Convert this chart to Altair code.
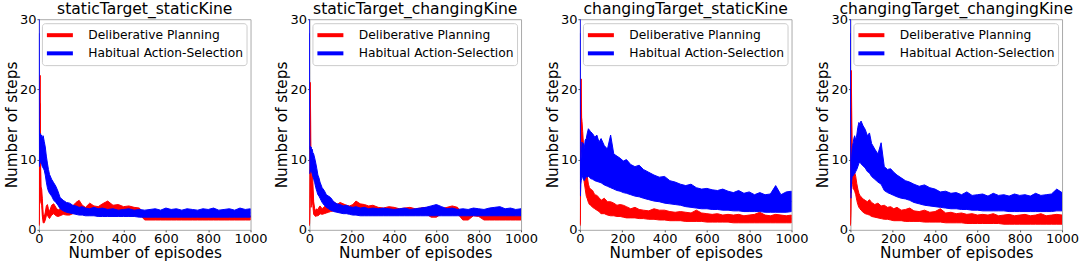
import altair as alt
import pandas as pd

# ---------------- data ----------------
EP = [0, 1, 2, 3, 4, 6, 8, 10, 13, 16,
      20, 25, 30, 35, 40, 45, 50, 60, 70, 80,
      90, 100, 115, 130, 145, 160, 175, 190, 205, 220,
      240, 260, 280, 300, 325, 350, 375, 400, 425, 450,
      475, 500, 525, 550, 575, 600, 625, 650, 675, 700,
      725, 750, 775, 800, 825, 850, 875, 900, 925, 950,
      975, 1000]

SERIES = ["Deliberative Planning", "Habitual Action-Selection"]
COLORS = ["#ff0000", "#0000ff"]
TITLES = ["staticTarget_staticKine", "staticTarget_changingKine",
          "changingTarget_staticKine", "changingTarget_changingKine"]
X_TICKS = [0, 200, 400, 600, 800, 1000]
Y_TICKS = [0, 10, 20, 30]

# panel 1 : staticTarget_staticKine
P1_RED_HI = [1.0, 3.0, 8.0, 14.0, 19.0, 22.0, 9.0, 6.1, 5.8, 4.5,
             2.2, 1.8, 2.5, 3.4, 3.6, 3.0, 2.6, 3.5, 3.7, 3.2,
             2.8, 3.0, 3.4, 3.0, 2.9, 3.4, 3.9, 4.2, 3.5, 3.2,
             3.8, 3.4, 3.3, 3.7, 4.1, 3.5, 3.6, 3.3, 3.4, 3.2,
             3.1, 2.0, 1.9, 2.0, 1.9, 2.0, 1.9, 2.0, 1.9, 2.0,
             1.9, 2.0, 1.9, 2.0, 1.9, 2.0, 1.9, 2.0, 1.9, 2.0,
             1.9, 2.0]
P1_RED_LO = [0.6, 1.0, 3.0, 6.0, 10.0, 14.0, 4.0, 3.8, 3.5, 2.0,
             1.0, 1.0, 1.4, 2.0, 2.1, 1.8, 1.6, 2.1, 2.3, 2.0,
             1.9, 2.0, 2.2, 2.1, 2.1, 2.3, 2.6, 2.8, 2.5, 2.4,
             2.6, 2.5, 2.4, 2.6, 2.7, 2.5, 2.4, 2.3, 2.3, 2.2,
             2.2, 1.4, 1.4, 1.4, 1.4, 1.4, 1.4, 1.4, 1.4, 1.4,
             1.4, 1.4, 1.4, 1.4, 1.4, 1.4, 1.4, 1.4, 1.4, 1.4,
             1.4, 1.4]
P1_BLUE_HI = [30.0, 16.0, 13.5, 13.4, 13.6, 13.2, 13.7, 13.3, 13.5, 13.0,
              13.4, 12.6, 11.8, 10.5, 9.5, 8.6, 7.9, 7.2, 6.7, 6.2,
              5.5, 4.6, 4.2, 3.9, 3.8, 3.5, 3.4, 3.2, 3.3, 3.1,
              3.0, 3.2, 3.0, 3.1, 2.9, 3.0, 2.8, 2.9, 3.0, 2.8,
              2.9, 2.8, 2.9, 3.0, 2.8, 3.1, 2.9, 3.0, 2.8, 3.0,
              2.9, 2.8, 3.0, 2.9, 3.1, 2.8, 2.9, 3.0, 2.8, 3.1,
              2.9, 3.0]
P1_BLUE_LO = [26.0, 9.0, 9.5, 9.8, 10.0, 9.6, 9.8, 9.4, 9.3, 9.0,
              8.8, 8.5, 7.8, 6.8, 6.0, 5.5, 5.2, 4.8, 4.2, 3.9,
              3.5, 3.0, 2.7, 2.5, 2.4, 2.3, 2.2, 2.1, 2.1, 2.0,
              2.0, 2.0, 1.9, 1.9, 1.9, 1.9, 1.9, 1.9, 1.9, 1.9,
              1.8, 1.8, 1.8, 1.8, 1.8, 1.8, 1.8, 1.8, 1.8, 1.8,
              1.8, 1.8, 1.8, 1.8, 1.8, 1.8, 1.8, 1.8, 1.8, 1.8,
              1.8, 1.8]

# panel 2 : staticTarget_changingKine
P2_RED_HI = [1.0, 3.0, 8.0, 14.0, 21.0, 15.0, 6.0, 7.0, 8.2, 7.0,
             4.0, 3.0, 2.7, 3.0, 2.8, 3.2, 3.4, 3.0, 3.3, 3.5,
             3.4, 3.8, 4.0, 3.6, 3.9, 3.7, 3.5, 3.4, 3.6, 4.1,
             3.7, 3.6, 3.4, 3.5, 3.2, 3.1, 3.3, 3.2, 3.0, 3.1,
             3.2, 3.0, 3.1, 3.2, 2.4, 2.3, 3.0, 3.2, 3.4, 3.2,
             2.0, 2.0, 3.0, 2.6, 2.0, 2.0, 2.1, 2.0, 2.0, 2.1,
             2.0, 2.0]
P2_RED_LO = [0.6, 1.0, 3.0, 5.0, 12.0, 6.0, 3.2, 3.5, 4.5, 3.5,
             2.2, 2.0, 1.9, 2.0, 2.0, 2.1, 2.3, 2.2, 2.3, 2.4,
             2.5, 2.6, 2.7, 2.6, 2.7, 2.6, 2.6, 2.5, 2.6, 2.7,
             2.6, 2.6, 2.5, 2.5, 2.4, 2.4, 2.4, 2.4, 2.3, 2.3,
             2.3, 2.3, 2.3, 2.3, 1.8, 1.8, 2.3, 2.3, 2.4, 2.3,
             1.4, 1.4, 2.0, 1.9, 1.4, 1.4, 1.4, 1.4, 1.4, 1.4,
             1.4, 1.4]
P2_BLUE_HI = [30.0, 14.0, 11.8, 11.5, 11.9, 11.6, 11.8, 11.4, 11.5, 11.0,
              10.8, 10.2, 9.5, 8.7, 7.8, 7.4, 6.8, 6.0, 5.6, 5.0,
              4.8, 4.6, 4.0, 3.7, 3.6, 3.4, 3.5, 3.3, 3.2, 3.3,
              3.1, 3.2, 3.0, 3.1, 3.0, 3.1, 3.0, 2.9, 3.0, 3.1,
              2.9, 3.0, 3.1, 3.2, 3.4, 3.6, 3.3, 3.0, 3.1, 2.9,
              3.0, 2.9, 3.1, 3.0, 2.9, 3.1, 3.2, 3.3, 3.0, 3.1,
              2.9, 3.0]
P2_BLUE_LO = [26.0, 8.0, 8.0, 8.2, 8.5, 8.3, 8.4, 8.2, 8.0, 7.6,
              7.2, 6.7, 6.0, 5.5, 5.0, 4.8, 4.5, 3.9, 3.5, 3.2,
              3.0, 2.8, 2.6, 2.5, 2.4, 2.3, 2.3, 2.2, 2.1, 2.1,
              2.0, 2.0, 2.0, 2.0, 2.0, 2.0, 2.0, 2.0, 2.0, 2.0,
              2.0, 2.0, 2.0, 2.0, 2.0, 2.0, 2.0, 2.0, 2.0, 2.0,
              2.0, 2.0, 2.0, 2.0, 2.0, 2.0, 2.0, 2.0, 2.0, 2.0,
              2.0, 2.0]

# panel 3 : changingTarget_staticKine
P3_RED_HI = [1.1, 3.0, 8.0, 13.0, 18.0, 21.5, 16.0, 15.4, 14.0, 12.5,
             10.1, 9.0, 8.0, 7.5, 6.5, 6.0, 5.8, 5.6, 5.0, 4.9,
             4.6, 4.2, 4.5, 4.0, 4.0, 3.8, 3.5, 3.6, 3.5, 3.3,
             3.0, 3.2, 2.9, 2.8, 2.7, 3.0, 2.8, 2.8, 2.6, 2.5,
             2.6, 2.5, 2.4, 2.8, 2.4, 2.3, 2.2, 2.3, 2.1, 2.2,
             2.1, 2.2, 2.0, 2.1, 2.2, 2.5, 2.1, 2.0, 2.2, 2.1,
             2.0, 2.1]
P3_RED_LO = [0.6, 1.0, 2.0, 5.0, 9.0, 14.0, 11.5, 11.0, 10.0, 9.0,
             6.8, 5.8, 4.8, 4.4, 3.9, 3.6, 3.5, 3.2, 3.0, 2.8,
             2.6, 2.3, 2.3, 2.1, 2.0, 2.0, 1.9, 1.9, 1.8, 1.7,
             1.7, 1.7, 1.6, 1.6, 1.5, 1.5, 1.4, 1.4, 1.3, 1.3,
             1.3, 1.2, 1.2, 1.2, 1.2, 1.1, 1.1, 1.1, 1.1, 1.1,
             1.0, 1.0, 1.0, 1.0, 1.0, 1.0, 1.0, 1.0, 1.0, 1.0,
             1.0, 1.0]
P3_BLUE_HI = [30.0, 12.0, 6.8, 8.0, 9.5, 10.5, 11.5, 12.5, 12.0, 12.3,
              11.5, 12.8, 13.0, 13.8, 14.4, 14.2, 14.0, 13.7, 13.2, 13.5,
              12.5, 13.0, 12.0, 11.5, 13.5, 10.8, 10.5, 10.2, 9.8, 10.0,
              9.3, 9.0, 9.2, 8.6, 8.2, 7.8, 7.5, 7.6, 7.0, 6.8,
              6.5, 6.3, 6.5, 6.0, 5.8, 5.9, 5.7, 5.6, 5.8, 5.5,
              5.3, 5.6, 5.2, 5.4, 5.0, 5.3, 5.0, 5.1, 6.3, 5.0,
              5.4, 5.5]
P3_BLUE_LO = [26.0, 5.0, 4.8, 5.5, 6.5, 7.0, 7.3, 7.8, 7.5, 7.2,
              7.0, 7.3, 7.6, 7.5, 7.6, 7.5, 7.3, 7.2, 7.0, 6.9,
              6.8, 6.7, 6.4, 6.2, 6.0, 5.8, 5.6, 5.5, 5.3, 5.2,
              5.0, 4.8, 4.7, 4.5, 4.3, 4.1, 4.0, 3.8, 3.7, 3.6,
              3.5, 3.3, 3.2, 3.1, 3.0, 3.0, 2.9, 2.9, 2.8, 2.8,
              2.7, 2.7, 2.6, 2.6, 2.6, 2.6, 2.5, 2.5, 2.5, 2.5,
              2.5, 2.6]

# panel 4 : changingTarget_changingKine
P4_RED_HI = [1.0, 3.0, 9.0, 16.0, 22.7, 17.0, 12.0, 9.5, 8.5, 8.6,
             8.2, 7.6, 6.6, 5.8, 5.2, 4.9, 4.7, 4.4, 4.2, 4.0,
             4.3, 3.9, 3.6, 3.8, 3.4, 3.5, 3.2, 3.3, 3.0, 3.2,
             2.8, 2.9, 3.1, 2.7, 2.6, 2.8, 2.5, 2.6, 3.0, 2.4,
             2.5, 2.3, 2.4, 2.2, 2.3, 2.1, 2.2, 2.1, 2.3, 2.0,
             2.1, 2.2, 2.0, 2.1, 2.2, 2.0, 2.1, 2.3, 2.0, 2.1,
             2.2, 2.1]
P4_RED_LO = [0.6, 1.0, 3.0, 7.0, 12.0, 10.0, 8.0, 6.5, 5.8, 5.8,
             5.5, 5.0, 4.2, 3.6, 3.2, 3.0, 2.8, 2.5, 2.3, 2.2,
             2.1, 1.9, 1.8, 1.7, 1.6, 1.5, 1.5, 1.4, 1.3, 1.3,
             1.3, 1.2, 1.2, 1.2, 1.2, 1.1, 1.1, 1.1, 1.1, 1.0,
             1.0, 1.0, 1.0, 0.9, 0.9, 0.9, 0.9, 0.9, 0.9, 0.9,
             0.8, 0.8, 0.8, 0.8, 0.8, 0.8, 0.8, 0.8, 0.8, 0.8,
             0.8, 0.8]
P4_BLUE_HI = [30.0, 12.0, 6.0, 7.5, 9.0, 10.5, 11.5, 12.0, 12.4, 13.0,
              13.4, 12.8, 13.5, 14.6, 15.3, 15.0, 15.5, 14.8, 14.3, 13.4,
              13.8, 12.3, 11.5, 10.8, 12.4, 9.0, 8.6, 8.7, 8.2, 7.8,
              7.4, 7.0, 6.8, 6.5, 6.2, 6.4, 6.0, 5.8, 5.4, 5.5,
              5.2, 5.3, 5.0, 5.4, 4.9, 5.0, 5.1, 4.8, 5.2, 4.9,
              5.0, 4.8, 5.1, 4.9, 5.0, 4.8, 5.2, 4.9, 5.0, 5.1,
              5.8, 5.3]
P4_BLUE_LO = [26.0, 5.0, 4.5, 5.0, 6.0, 7.0, 7.5, 7.8, 7.7, 7.9,
              8.0, 8.3, 8.6, 9.0, 9.5, 9.6, 9.4, 9.1, 8.8, 8.3,
              8.1, 7.6, 7.2, 6.8, 6.5, 5.6, 5.3, 5.1, 4.9, 4.7,
              4.5, 4.4, 4.2, 3.9, 3.7, 3.5, 3.4, 3.3, 3.2, 3.1,
              3.0, 3.0, 2.9, 2.9, 2.8, 2.8, 2.7, 2.7, 2.7, 2.7,
              2.7, 2.6, 2.6, 2.6, 2.6, 2.6, 2.6, 2.6, 2.6, 2.6,
              2.7, 2.7]

PANELS = [
    (P1_RED_LO, P1_RED_HI, P1_BLUE_LO, P1_BLUE_HI),
    (P2_RED_LO, P2_RED_HI, P2_BLUE_LO, P2_BLUE_HI),
    (P3_RED_LO, P3_RED_HI, P3_BLUE_LO, P3_BLUE_HI),
    (P4_RED_LO, P4_RED_HI, P4_BLUE_LO, P4_BLUE_HI),
]


def make_frame(red_lo, red_hi, blue_lo, blue_hi):
    rows = []
    for name, lo, hi in ((SERIES[0], red_lo, red_hi), (SERIES[1], blue_lo, blue_hi)):
        for e, l, h in zip(EP, lo, hi):
            rows.append({"episode": e, "lo": l, "hi": h, "series": name})
    return pd.DataFrame(rows)


FONT = "DejaVu Sans"


def make_panel(title, df):
    xenc = alt.X("episode:Q",
                 scale=alt.Scale(domain=[0, 1000], nice=False),
                 axis=alt.Axis(values=X_TICKS, format="d", title="Number of episodes"))
    yscale = alt.Scale(domain=[0, 30], nice=False)
    yaxis = alt.Axis(values=Y_TICKS, format="d", title="Number of steps")
    base = alt.Chart(df)

    line = base.transform_calculate(
        mid="(datum.lo + datum.hi) / 2"
    ).mark_line(strokeWidth=1, clip=True).encode(
        x=xenc,
        y=alt.Y("mid:Q", scale=yscale, axis=yaxis),
        stroke=alt.Stroke(
            "series:N",
            scale=alt.Scale(domain=SERIES, range=COLORS),
            legend=alt.Legend(
                title=None, orient="top-right", offset=4,
                fillColor="white", strokeColor="#cccccc", cornerRadius=3,
                padding=3, labelFontSize=12.3, labelFont=FONT, labelColor="black",
                labelLimit=400, symbolType="M-1.86,0L1.86,0", symbolSize=196,
                symbolStrokeWidth=4, symbolOffset=6, labelOffset=19.5,
                rowPadding=1.2, symbolOpacity=1,
            ),
        ),
    )

    areas = []
    for name, col in zip(SERIES, COLORS):
        areas.append(
            base.transform_filter(alt.datum.series == name)
            .mark_area(clip=True, opacity=1, stroke=col, strokeWidth=1)
            .encode(
                x=xenc,
                y=alt.Y("lo:Q", scale=yscale, axis=yaxis),
                y2="hi:Q",
                fill=alt.Fill("series:N",
                              scale=alt.Scale(domain=SERIES, range=COLORS),
                              legend=None),
            )
        )

    return alt.layer(line, *areas).properties(
        width=212, height=211,
        title=alt.TitleParams(title, fontSize=15.6, fontWeight="normal",
                              font=FONT, offset=-4, anchor="middle",
                              frame="group", color="black"),
    )


panels = [make_panel(t, make_frame(*vals)) for t, vals in zip(TITLES, PANELS)]

chart = alt.hconcat(*panels, spacing=59, bounds="flush").resolve_scale(
    stroke="independent", fill="independent"
).resolve_legend(stroke="independent").properties(
    padding={"left": 3, "top": 0, "right": 4, "bottom": 0}
).configure(
    font=FONT, background="white"
).configure_axis(
    labelFontSize=13, titleFontSize=15.3, titleFontWeight="normal",
    labelColor="black", titleColor="black", grid=False, domain=False,
    tickSize=2, tickColor="#555555", labelPadding=1, labelFlush=False,
    titlePadding=0, labelFont=FONT, titleFont=FONT,
).configure_view(
    stroke="#aaaaaa", strokeWidth=1
)

chart.save("out.html", embed_options={"renderer": "svg", "actions": False})
